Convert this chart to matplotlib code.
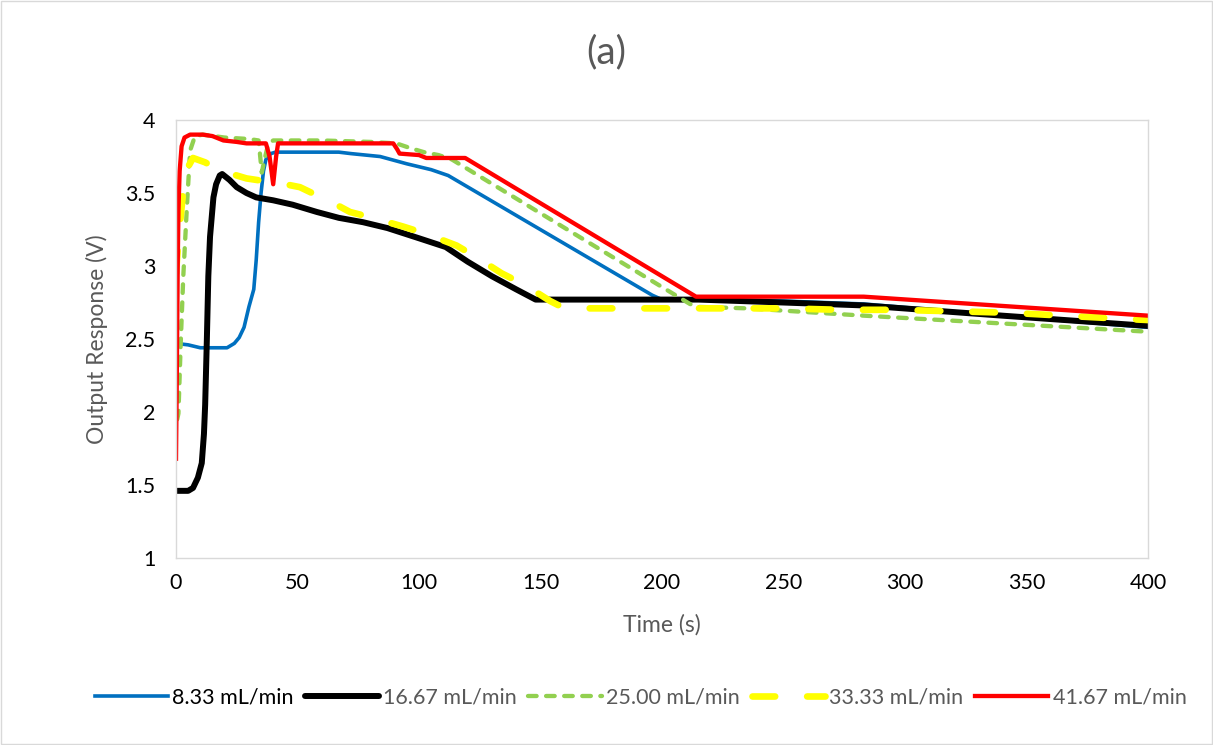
import matplotlib
matplotlib.use("Agg")
import matplotlib.pyplot as plt
from matplotlib.patches import Rectangle

plt.rcParams['font.family'] = ['Lato', 'DejaVu Sans']

labels = ["8.33 mL/min", "16.67 mL/min", "25.00 mL/min", "33.33 mL/min", "41.67 mL/min"]

blue_t = [0, 5, 10, 21, 24, 26, 28, 30, 32, 33, 34, 35, 36, 37, 39, 41, 50, 60, 67, 72, 78, 84, 95, 105, 112,
          196, 200, 215, 250, 283, 340, 400]
blue_y = [2.47, 2.46, 2.44, 2.44, 2.47, 2.51, 2.58, 2.72, 2.84, 3.04, 3.3, 3.5, 3.65, 3.73, 3.77, 3.78, 3.78,
          3.78, 3.78, 3.77, 3.76, 3.75, 3.70, 3.66, 3.62, 2.80, 2.77, 2.77, 2.76, 2.74, 2.66, 2.58]

black_t = [0, 5, 7, 9, 10.6, 11.5, 12, 12.7, 13.3, 14, 15.4, 16.5, 18, 19, 22, 25, 29, 33, 40, 48, 58, 67, 77,
           87, 100, 111, 120, 130, 140, 148, 160, 200, 215, 250, 283, 340, 400]
black_y = [1.46, 1.46, 1.48, 1.55, 1.65, 1.85, 2.05, 2.5, 2.93, 3.2, 3.47, 3.56, 3.62, 3.63, 3.59, 3.54, 3.50,
           3.47, 3.45, 3.42, 3.37, 3.33, 3.30, 3.26, 3.19, 3.13, 3.03, 2.93, 2.84, 2.77, 2.77, 2.77, 2.77, 2.75,
           2.73, 2.66, 2.59]

green_t = [0.5, 1, 2, 3, 4.4, 5.8, 7.8, 11, 20, 30, 34, 35.3, 36.3, 38, 40, 45, 60, 80, 90.7, 96, 102, 108,
           113.5, 211.5, 215, 235, 283, 400]
green_y = [1.95, 1.99, 2.5, 2.93, 3.38, 3.79, 3.89, 3.90, 3.88, 3.87, 3.86, 3.64, 3.72, 3.84, 3.86, 3.86, 3.86,
           3.85, 3.84, 3.81, 3.78, 3.76, 3.73, 2.74, 2.72, 2.71, 2.66, 2.55]

yellow_t = [0, 1, 3, 5, 7, 12, 17.4, 23, 29, 37, 45, 51, 56, 60.6, 66, 71.6, 81, 93.5, 103, 115.5, 123.7, 134,
            143.6, 154, 158.7, 170, 228, 251, 273, 296, 320, 343, 365, 388, 400]
yellow_y = [2.95, 3.18, 3.52, 3.68, 3.74, 3.71, 3.66, 3.63, 3.60, 3.58, 3.56, 3.54, 3.50, 3.46, 3.42, 3.37,
            3.33, 3.27, 3.22, 3.14, 3.06, 2.95, 2.87, 2.76, 2.72, 2.71, 2.71, 2.71, 2.70, 2.70, 2.69, 2.68, 2.66,
            2.64, 2.63]

red_t = [0, 0.3, 0.7, 1, 1.5, 2.3, 3.5, 5.8, 11, 15, 19.5, 25, 29, 33, 37, 38.5, 40, 41.2, 42, 50, 60, 70, 80,
         89.4, 91, 92, 100, 103, 110, 119, 214, 250, 283, 400]
red_y = [1.68, 2.2, 3.0, 3.38, 3.65, 3.82, 3.88, 3.90, 3.90, 3.89, 3.86, 3.85, 3.84, 3.84, 3.84, 3.75, 3.56,
         3.75, 3.84, 3.84, 3.84, 3.84, 3.84, 3.84, 3.80, 3.77, 3.76, 3.74, 3.74, 3.74, 2.79, 2.79, 2.79, 2.66]

x_ticks = [0, 50, 100, 150, 200, 250, 300, 350, 400]
y_ticks = [1, 1.5, 2, 2.5, 3, 3.5, 4]

GRAY = "#595959"

fig = plt.figure(figsize=(12.13, 7.45), dpi=100)
fig.add_artist(Rectangle((0.001, 0.001), 0.998, 0.997, transform=fig.transFigure, fill=False,
                         edgecolor="#d9d9d9", linewidth=1))
ax = fig.add_axes([0.1451, 0.2510, 0.8013, 0.5879])

ax.plot(blue_t, blue_y, color="#0070c0", lw=2.6, solid_joinstyle="round", label=labels[0])
ax.plot(black_t, black_y, color="black", lw=4.3, solid_joinstyle="round", solid_capstyle="round", label=labels[1])
ax.plot(green_t, green_y, color="#92d050", lw=3.1, dashes=(2.0, 2.2), dash_capstyle="round", label=labels[2])
ax.plot(yellow_t, yellow_y, color="#ffff00", lw=4.8, dashes=(3.4, 4.8), dash_capstyle="round", label=labels[3])
ax.plot(red_t, red_y, color="#ff0000", lw=3.1, solid_joinstyle="round", label=labels[4])

ax.set_xlim(0, 400)
ax.set_ylim(1, 4)
ax.set_xticks(x_ticks)
ax.set_yticks(y_ticks)
ax.set_yticklabels(["{:g}".format(v) for v in y_ticks])
ax.tick_params(length=0, labelsize=15.5, colors="black")
ax.tick_params(axis="x", pad=11)
ax.tick_params(axis="y", pad=15)
for s in ax.spines.values():
    s.set_color("#d9d9d9")
    s.set_linewidth(1)

ax.set_xlabel("Time (s)", fontsize=16.5, color=GRAY, labelpad=15)
ax.set_ylabel("Output Response (V)", fontsize=16.5, color=GRAY, labelpad=12)
fig.text(0.5, 1 - 52 / 745, "(a)", ha="center", va="center", fontsize=28, color=GRAY)

leg = fig.legend(loc="center", bbox_to_anchor=(0.528, 1 - 698 / 745), ncol=5, frameon=False,
                 fontsize=15.5, handlelength=3.4, handletextpad=0.2, columnspacing=0.55)
for i, t in enumerate(leg.get_texts()):
    t.set_color("black" if i == 0 else GRAY)

fig.savefig("out.png", dpi=100)
